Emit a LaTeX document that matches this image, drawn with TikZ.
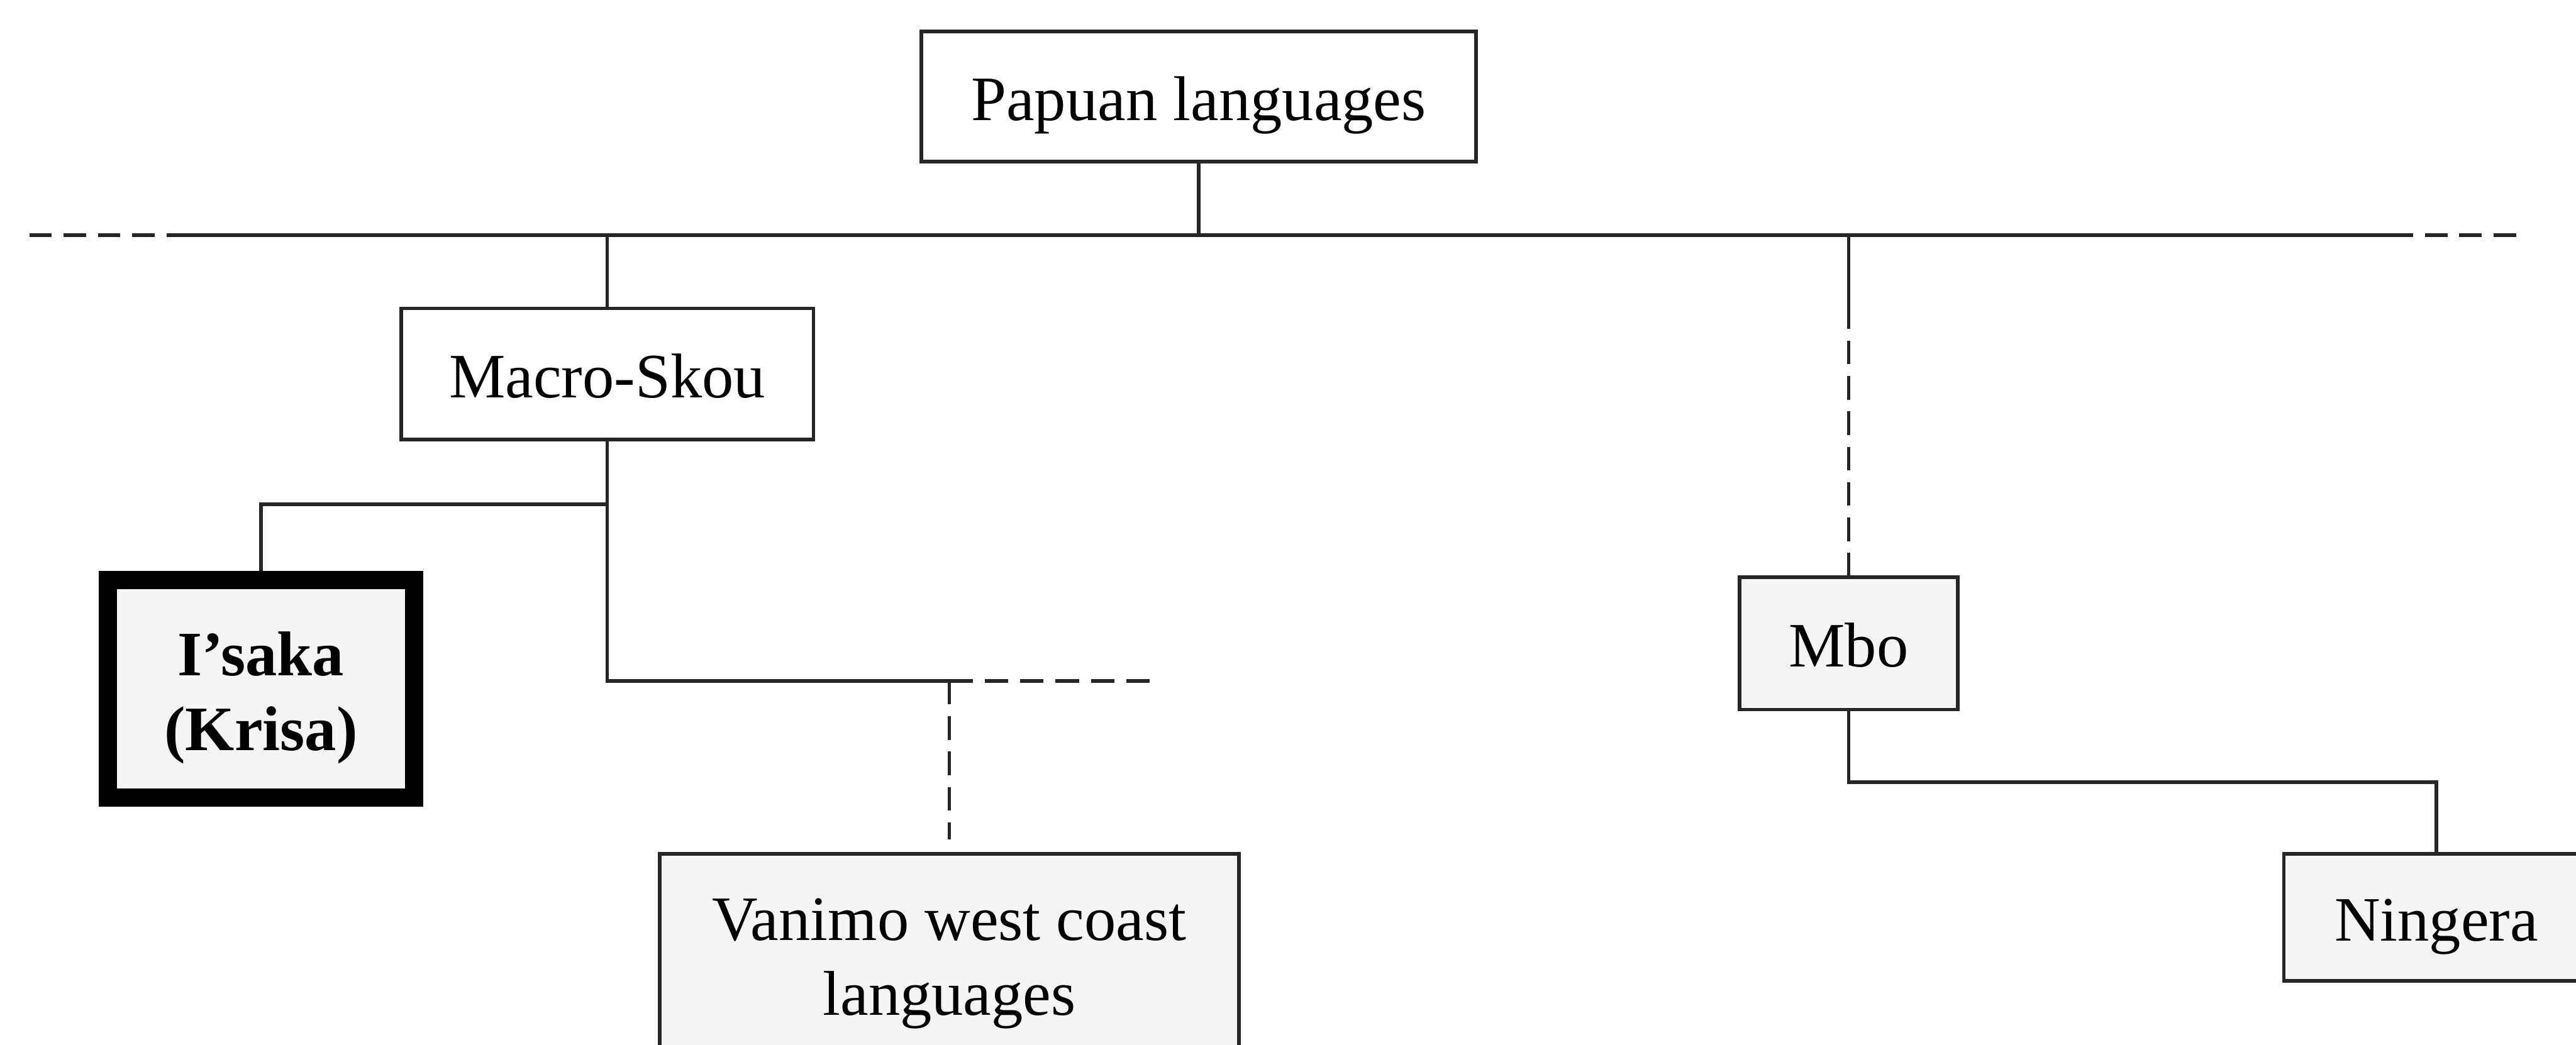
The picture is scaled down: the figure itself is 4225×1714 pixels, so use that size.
\documentclass[tikz,border=0pt]{standalone}
\usepackage{fontspec}
\setmainfont{Liberation Serif}
\begin{document}
\begin{tikzpicture}[x=0.01cm,y=-0.01cm,
  box/.style={draw=black!85, line width=1.7pt, fill=white, inner sep=0pt,
    font=\fontsize{29.5}{35}\selectfont, align=center},
  onebox/.style={box, text height=22pt, text depth=0pt},
  greybox/.style={fill=black!4},
  heavybox/.style={box, draw=black, line width=8.5pt, fill=black!4,
    font=\fontsize{29.5}{35}\selectfont\bfseries},
  link/.style={draw=black!85, line width=1.6pt},
  mainline/.style={draw=black!85, line width=1.9pt},
  dlink/.style={link, dash pattern=on 11pt off 5.5pt},
  dmain/.style={mainline, dash pattern=on 10.5pt off 5.5pt}]
\useasboundingbox (0,0) rectangle (4225,1714);
\fill[white] (0,0) rectangle (4225,1714);

% nodes
\node[onebox, minimum width=9.09cm, minimum height=2.13cm] (pap) at (1966,158.5) {Papuan languages};
\node[onebox, minimum width=6.76cm, minimum height=2.15cm] (ms) at (996,613.5) {Macro-Skou};
\node[heavybox, minimum width=5.02cm, minimum height=3.57cm] (isk) at (428,1130)
  {\rule{0pt}{30.5pt}I’saka\\(Krisa)\rule[-8pt]{0pt}{8pt}};
\node[box, greybox, minimum width=9.49cm, minimum height=3.27cm] (van) at (1557,1564.5)
  {\rule{0pt}{30.5pt}Vanimo west coast\\languages\rule[-8pt]{0pt}{8pt}};
\node[onebox, greybox, minimum width=3.58cm, minimum height=2.17cm] (mbo) at (3032,1055.5) {Mbo};
\node[onebox, greybox, minimum width=5.0cm, minimum height=2.08cm] (nin) at (3996,1505) {Ningera};

% helper coordinates
\coordinate (ml0) at (38,386);
\coordinate (ml1) at (310,386);
\coordinate (mr1) at (3921,386);
\coordinate (mr0) at (4142,386);
\coordinate (yisk) at (0,827);
\coordinate (ysub) at (0,1117);
\coordinate (ymbo) at (0,1283);
\coordinate (vend) at (1900,1117);

% main line
\draw[mainline] (ml1) -- (mr1);
\draw[dmain] (ml1) -- (ml0);
\draw[dmain] (mr1) -- (mr0);

% connectors
\draw[link] (pap.south) -- (pap.south |- ml1);
\draw[link] (ms.north |- ml1) -- (ms.north);
\draw[link] (mbo.north |- ml1) -- ++(0,115) coordinate (mbs);
\draw[dlink] (mbs) -- (mbo.north);

\draw[link] (ms.south) -- (ms.south |- ysub) -- (van.north |- ysub) coordinate (vj);
\draw[link] (ms.south |- yisk) -| (isk.north);
\draw[dlink] (vj) -- (vend);
\draw[dlink, shorten >=0.21cm] (vj) -- (van.north);

\draw[link] (mbo.south) -- (mbo.south |- ymbo) -| (nin.north);
\end{tikzpicture}
\end{document}
